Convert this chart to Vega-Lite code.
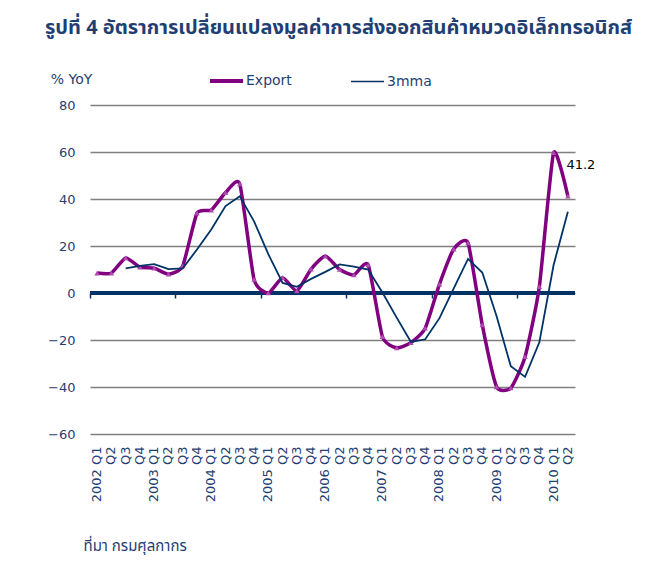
{
  "$schema": "https://vega.github.io/schema/vega-lite/v6.json",
  "width": 485,
  "height": 329,
  "autosize": {"type": "none"},
  "padding": {"left": 90, "top": 105, "right": 70, "bottom": 128},
  "background": "white",
  "title": {
    "text": "รูปที่ 4 อัตราการเปลี่ยนแปลงมูลค่าการส่งออกสินค้าหมวดอิเล็กทรอนิกส์",
    "anchor": "start",
    "frame": "group",
    "dx": -45,
    "offset": 34,
    "fontSize": 20,
    "fontWeight": "bold",
    "color": "#1F3F73",
    "font": "Tahoma, Noto Sans Thai, Noto Sans, DejaVu Sans"
  },
  "config": {
    "view": {"stroke": null},
    "axisX": {
      "domain": false,
      "ticks": false,
      "labelAngle": 270,
      "labelPadding": 12,
      "labelFont": "DejaVu Sans",
      "labelFontSize": 13,
      "labelColor": "#1F3F73",
      "grid": false
    },
    "axisY": {
      "domain": false,
      "ticks": false,
      "labelPadding": 15,
      "labelFont": "DejaVu Sans",
      "labelFontSize": 13,
      "labelColor": "#1F3F73",
      "grid": true,
      "gridColor": "#808080",
      "gridWidth": 1.5,
      "values": [-60, -40, -20, 0, 20, 40, 60, 80]
    }
  },
  "data": {
    "values": [
      {"q": "2002 Q1", "series": "Export", "value": 8.5},
      {"q": "2002 Q2", "series": "Export", "value": 8.5},
      {"q": "2002 Q3", "series": "Export", "value": 14.9},
      {"q": "2002 Q4", "series": "Export", "value": 11.0},
      {"q": "2003 Q1", "series": "Export", "value": 10.6},
      {"q": "2003 Q2", "series": "Export", "value": 8.0},
      {"q": "2003 Q3", "series": "Export", "value": 11.5},
      {"q": "2003 Q4", "series": "Export", "value": 34.0},
      {"q": "2004 Q1", "series": "Export", "value": 35.3},
      {"q": "2004 Q2", "series": "Export", "value": 42.7},
      {"q": "2004 Q3", "series": "Export", "value": 46.4},
      {"q": "2004 Q4", "series": "Export", "value": 5.8},
      {"q": "2005 Q1", "series": "Export", "value": 0.0},
      {"q": "2005 Q2", "series": "Export", "value": 6.5},
      {"q": "2005 Q3", "series": "Export", "value": 0.9},
      {"q": "2005 Q4", "series": "Export", "value": 10.2},
      {"q": "2006 Q1", "series": "Export", "value": 15.7},
      {"q": "2006 Q2", "series": "Export", "value": 10.0},
      {"q": "2006 Q3", "series": "Export", "value": 7.7},
      {"q": "2006 Q4", "series": "Export", "value": 12.0},
      {"q": "2007 Q1", "series": "Export", "value": -18.6},
      {"q": "2007 Q2", "series": "Export", "value": -23.3},
      {"q": "2007 Q3", "series": "Export", "value": -21.1},
      {"q": "2007 Q4", "series": "Export", "value": -15.0},
      {"q": "2008 Q1", "series": "Export", "value": 3.8},
      {"q": "2008 Q2", "series": "Export", "value": 18.7},
      {"q": "2008 Q3", "series": "Export", "value": 21.3},
      {"q": "2008 Q4", "series": "Export", "value": -13.6},
      {"q": "2009 Q1", "series": "Export", "value": -39.9},
      {"q": "2009 Q2", "series": "Export", "value": -40.4},
      {"q": "2009 Q3", "series": "Export", "value": -27.1},
      {"q": "2009 Q4", "series": "Export", "value": 2.7},
      {"q": "2010 Q1", "series": "Export", "value": 59.7},
      {"q": "2010 Q2", "series": "Export", "value": 41.2},
      {"q": "2002 Q3", "series": "3mma", "value": 10.5},
      {"q": "2002 Q4", "series": "3mma", "value": 11.5},
      {"q": "2003 Q1", "series": "3mma", "value": 12.3},
      {"q": "2003 Q2", "series": "3mma", "value": 10.2},
      {"q": "2003 Q3", "series": "3mma", "value": 10.5},
      {"q": "2003 Q4", "series": "3mma", "value": 18.5},
      {"q": "2004 Q1", "series": "3mma", "value": 27.0},
      {"q": "2004 Q2", "series": "3mma", "value": 37.0},
      {"q": "2004 Q3", "series": "3mma", "value": 41.2},
      {"q": "2004 Q4", "series": "3mma", "value": 30.5},
      {"q": "2005 Q1", "series": "3mma", "value": 16.5},
      {"q": "2005 Q2", "series": "3mma", "value": 4.3},
      {"q": "2005 Q3", "series": "3mma", "value": 2.6},
      {"q": "2005 Q4", "series": "3mma", "value": 6.0},
      {"q": "2006 Q1", "series": "3mma", "value": 9.0},
      {"q": "2006 Q2", "series": "3mma", "value": 12.2},
      {"q": "2006 Q3", "series": "3mma", "value": 11.2},
      {"q": "2006 Q4", "series": "3mma", "value": 10.0},
      {"q": "2007 Q1", "series": "3mma", "value": 0.2},
      {"q": "2007 Q2", "series": "3mma", "value": -10.5},
      {"q": "2007 Q3", "series": "3mma", "value": -20.8},
      {"q": "2007 Q4", "series": "3mma", "value": -19.7},
      {"q": "2008 Q1", "series": "3mma", "value": -10.7},
      {"q": "2008 Q2", "series": "3mma", "value": 2.0},
      {"q": "2008 Q3", "series": "3mma", "value": 14.5},
      {"q": "2008 Q4", "series": "3mma", "value": 8.7},
      {"q": "2009 Q1", "series": "3mma", "value": -9.8},
      {"q": "2009 Q2", "series": "3mma", "value": -31.2},
      {"q": "2009 Q3", "series": "3mma", "value": -35.7},
      {"q": "2009 Q4", "series": "3mma", "value": -21.0},
      {"q": "2010 Q1", "series": "3mma", "value": 11.9},
      {"q": "2010 Q2", "series": "3mma", "value": 34.6}
    ]
  },
  "encoding": {
    "y": {
      "field": "value",
      "type": "quantitative",
      "scale": {"domain": [-60, 80], "nice": false, "zero": false},
      "axis": {
        "title": "% YoY",
        "titleAngle": 0,
        "titleAlign": "center",
        "titleBaseline": "middle",
        "titleX": -19,
        "titleY": -26,
        "titleFont": "DejaVu Sans",
        "titleFontSize": 14,
        "titleFontWeight": "normal",
        "titleColor": "#1F3F73"
      }
    }
  },
  "resolve": {"axis": {"x": "independent"}},
  "layer": [
    {
      "mark": {"type": "rule", "color": "#003366", "strokeWidth": 2.5},
      "encoding": {"y": {"datum": 0}}
    },
    {
      "transform": [{"filter": "datum.series === 'Export'"}],
      "mark": {"type": "line", "interpolate": "cardinal", "tension": 0.45, "strokeWidth": 3.5},
      "encoding": {
        "x": {
          "field": "q",
          "type": "ordinal",
          "sort": null,
          "bandPosition": 0.5,
          "scale": {"type": "band", "paddingInner": 0, "paddingOuter": 0},
          "axis": {
            "orient": "bottom",
            "title": "ที่มา กรมศุลกากร",
            "titleAnchor": "start",
            "titleAlign": "left",
            "titleBaseline": "middle",
            "titleX": -7,
            "titleY": 111,
            "titleFont": "Tahoma, Noto Sans Thai, DejaVu Sans",
            "titleFontSize": 15,
            "titleFontWeight": "normal",
            "titleColor": "#1F3F73",
            "labelExpr": "indexof(datum.value, 'Q1') > 0 ? datum.value : substring(datum.value, 5)"
          }
        },
        "color": {
          "field": "series",
          "type": "nominal",
          "scale": {"domain": ["Export", "3mma"], "range": ["#800080", "#003366"]},
          "legend": {
            "title": null,
            "orient": "none",
            "direction": "horizontal",
            "legendX": 129.5,
            "legendY": -31,
            "symbolType": "stroke",
            "symbolSize": 1089,
            "symbolStrokeWidth": 3,
            "labelOffset": 12.5,
            "columnPadding": 55,
            "labelFont": "DejaVu Sans",
            "labelFontSize": 14,
            "labelColor": "#1F3F73",
            "encode": {
              "symbols": {"update": {"strokeWidth": {"signal": "datum.value === 'Export' ? 4 : 1.5"}}}
            }
          }
        }
      }
    },
    {
      "transform": [{"filter": "datum.series === 'Export'"}],
      "mark": {"type": "point", "shape": "triangle-up", "filled": true, "size": 30, "color": "#B04AB0", "opacity": 1},
      "encoding": {
        "x": {
          "field": "q",
          "type": "ordinal",
          "sort": null,
          "bandPosition": 0.5,
          "axis": {
            "orient": "bottom",
            "offset": -141,
            "values": ["2002 Q1", "2003 Q3", "2005 Q1", "2006 Q3", "2008 Q1", "2009 Q3"],
            "bandPosition": 0,
            "labels": false,
            "ticks": true,
            "tickSize": 5,
            "tickWidth": 1.5,
            "tickColor": "#003366",
            "domain": false,
            "title": null
          }
        }
      }
    },
    {
      "transform": [{"filter": "datum.series === '3mma'"}],
      "mark": {"type": "line", "strokeWidth": 1.8},
      "encoding": {
        "x": {"field": "q", "type": "ordinal", "sort": null, "bandPosition": 0.5, "axis": null},
        "color": {"field": "series", "type": "nominal"}
      }
    },
    {
      "transform": [{"filter": "datum.series === 'Export' && datum.q === '2010 Q2'"}],
      "mark": {"type": "text", "dx": 13, "dy": -31, "font": "DejaVu Sans", "fontSize": 13, "color": "#000000"},
      "encoding": {
        "x": {"field": "q", "type": "ordinal", "sort": null, "bandPosition": 0.5, "axis": null},
        "text": {"field": "value", "type": "quantitative", "format": ".1f"}
      }
    }
  ]
}
